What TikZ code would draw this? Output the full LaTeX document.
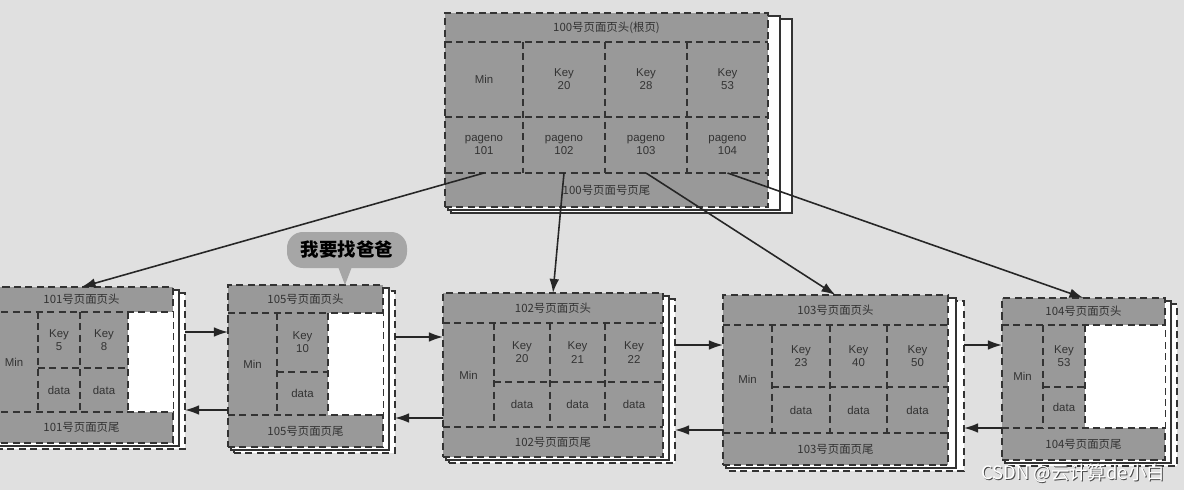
\documentclass[tikz,border=0pt]{standalone}
\usepackage{fontspec}
\setsansfont{Liberation Sans}
\newfontfamily\cjk{Noto Sans CJK SC}
\usetikzlibrary{fit,arrows.meta}
\NewDocumentCommand{\DrawPageStack}{O{6} O{sheet} m m m m m}{%
    \def\PageName{#3}
    \def\PageXMin{#4}
    \def\PageYMin{#5}
    \def\PageXMax{#6}
    \def\PageYMax{#7}
    %
    \node [#2, fit={(\PageXMin+6,\PageYMin+6) (\PageXMax+2*#1,\PageYMax+6)}] (\PageName b2) {};
    \node [sheet, fit={(\PageXMin+3,\PageYMin+3) (\PageXMax+#1,\PageYMax+3)}] (\PageName b1) {};
    \node [page, fit={(\PageXMin,\PageYMin) (\PageXMax,\PageYMax)}] (\PageName) {};
}

\begin{document}
\begin{tikzpicture}[
    x=0.02cm, y=-0.02cm,% one unit = one pixel of the scan
    dashln/.style={dash pattern=on 4pt off 2.5pt, line width=1.1pt},
    page/.style={draw=black!80, fill=black!40, dashln, inner sep=0pt, outer sep=0pt},
    sheet/.style={draw=black!80, fill=white, line width=0.6pt, inner sep=0pt, outer sep=0pt},
    backsheet/.style={sheet, dashln},
    cellline/.style={draw=black!80, dashln},
    cell/.style={inner sep=0pt, outer sep=0pt},
    celltext/.style={inner sep=0pt, align=center, text=black!80, font=\sffamily\fontsize{6.5}{7.5}\selectfont},
    bandtext/.style={celltext, font=\cjk\fontsize{6.5}{7.5}\selectfont},
    blank/.style={fill=white, inner sep=0pt, outer sep=0pt},
    link/.style={-{Latex[length=8pt, width=5.5pt]}, line width=0.9pt, black!85},
    bubble/.style={fill=black!35, rounded corners=9pt, inner sep=0pt},
    wmark/.style={text=white, font=\cjk\fontsize{10.5}{12}\selectfont}
    ]

    \useasboundingbox (0,0) rectangle (1184,490);
    \fill[black!12] (0,0) rectangle (1184,490);

    % root page 100
    \DrawPageStack[12]{p100}{445}{13}{768}{207}
    \node[cell, fit={(445,13) (768,42)}, label={[bandtext]center:100号页面页头(根页)}] (p100hd) {};
    \node[cell, fit={(445,42) (523,117)}, label={[celltext]center:Min}] (p100k0) {};
    \node[cell, fit={(523,42) (605,117)}, label={[celltext]center:{Key\\20}}] (p100k1) {};
    \node[cell, fit={(605,42) (687,117)}, label={[celltext]center:{Key\\28}}] (p100k2) {};
    \node[cell, fit={(687,42) (768,117)}, label={[celltext]center:{Key\\53}}] (p100k3) {};
    \node[cell, fit={(445,117) (523,173)}, label={[celltext]center:{pageno\\101}}] (p100g1) {};
    \node[cell, fit={(523,117) (605,173)}, label={[celltext]center:{pageno\\102}}] (p100g2) {};
    \node[cell, fit={(605,117) (687,173)}, label={[celltext]center:{pageno\\103}}] (p100g3) {};
    \node[cell, fit={(687,117) (768,173)}, label={[celltext]center:{pageno\\104}}] (p100g4) {};
    \node[cell, fit={(445,173) (768,207)}, label={[bandtext]center:100号页面号页尾}] (p100ft) {};
    \draw[cellline] (p100hd.south west) -- (p100hd.south east)
        (p100k0.south west) -- (p100k3.south east)
        (p100ft.north west) -- (p100ft.north east)
        (p100k1.north west) -- (p100g2.south west)
        (p100k2.north west) -- (p100g3.south west)
        (p100k3.north west) -- (p100g4.south west);

    % leaf 101
    \DrawPageStack[6][backsheet]{p101}{-10}{287}{173}{443}
    \node[cell, fit={(-10,287) (173,312)}, label={[bandtext]center:101号页面页头}] (p101hd) {};
    \node[cell, fit={(-10,312) (38,412)}, label={[celltext]center:Min}] (p101min) {};
    \node[cell, fit={(38,312) (80,368)}, label={[celltext]center:{Key\\5}}] (p101k1) {};
    \node[cell, fit={(80,312) (128,368)}, label={[celltext]center:{Key\\8}}] (p101k2) {};
    \node[cell, fit={(38,368) (80,412)}, label={[celltext]center:data}] (p101d1) {};
    \node[cell, fit={(80,368) (128,412)}, label={[celltext]center:data}] (p101d2) {};
    \node[blank, fit={(128,312) (173,412)}] (p101e) {};
    \node[cell, fit={(-10,412) (173,443)}, label={[bandtext]center:101号页面页尾}] (p101ft) {};
    \draw[cellline] (p101hd.south west) -- (p101hd.south east)
        (p101ft.north west) -- (p101ft.north east)
        (p101k1.north west) -- (p101d1.south west)
        (p101k2.north west) -- (p101d2.south west)
        (p101k2.north east) -- (p101d2.south east)
        (p101k1.south west) -- (p101k2.south east);

    % leaf 105
    \DrawPageStack[6][backsheet]{p105}{228}{285}{383}{447}
    \node[cell, fit={(228,285) (383,313)}, label={[bandtext]center:105号页面页头}] (p105hd) {};
    \node[cell, fit={(228,313) (277,415)}, label={[celltext]center:Min}] (p105min) {};
    \node[cell, fit={(277,313) (328,372)}, label={[celltext]center:{Key\\10}}] (p105k1) {};
    \node[cell, fit={(277,372) (328,415)}, label={[celltext]center:data}] (p105d1) {};
    \node[blank, fit={(328,313) (383,415)}] (p105e) {};
    \node[cell, fit={(228,415) (383,447)}, label={[bandtext]center:105号页面页尾}] (p105ft) {};
    \draw[cellline] (p105hd.south west) -- (p105hd.south east)
        (p105ft.north west) -- (p105ft.north east)
        (p105k1.north west) -- (p105d1.south west)
        (p105k1.north east) -- (p105d1.south east)
        (p105k1.south west) -- (p105k1.south east);

    % leaf 102
    \DrawPageStack[6][backsheet]{p102}{443}{293}{663}{457}
    \node[cell, fit={(443,293) (663,323)}, label={[bandtext]center:102号页面页头}] (p102hd) {};
    \node[cell, fit={(443,323) (494,427)}, label={[celltext]center:Min}] (p102min) {};
    \node[cell, fit={(494,323) (550,382)}, label={[celltext]center:{Key\\20}}] (p102k1) {};
    \node[cell, fit={(550,323) (605,382)}, label={[celltext]center:{Key\\21}}] (p102k2) {};
    \node[cell, fit={(605,323) (663,382)}, label={[celltext]center:{Key\\22}}] (p102k3) {};
    \node[cell, fit={(494,382) (550,427)}, label={[celltext]center:data}] (p102d1) {};
    \node[cell, fit={(550,382) (605,427)}, label={[celltext]center:data}] (p102d2) {};
    \node[cell, fit={(605,382) (663,427)}, label={[celltext]center:data}] (p102d3) {};
    \node[cell, fit={(443,427) (663,457)}, label={[bandtext]center:102号页面页尾}] (p102ft) {};
    \draw[cellline] (p102hd.south west) -- (p102hd.south east)
        (p102ft.north west) -- (p102ft.north east)
        (p102k1.north west) -- (p102d1.south west)
        (p102k2.north west) -- (p102d2.south west)
        (p102k3.north west) -- (p102d3.south west)
        (p102k1.south west) -- (p102k3.south east);

    % leaf 103
    \DrawPageStack[8][backsheet]{p103}{723}{295}{948}{465}
    \node[cell, fit={(723,295) (948,325)}, label={[bandtext]center:103号页面页头}] (p103hd) {};
    \node[cell, fit={(723,325) (772,433)}, label={[celltext]center:Min}] (p103min) {};
    \node[cell, fit={(772,325) (830,387)}, label={[celltext]center:{Key\\23}}] (p103k1) {};
    \node[cell, fit={(830,325) (887,387)}, label={[celltext]center:{Key\\40}}] (p103k2) {};
    \node[cell, fit={(887,325) (948,387)}, label={[celltext]center:{Key\\50}}] (p103k3) {};
    \node[cell, fit={(772,387) (830,433)}, label={[celltext]center:data}] (p103d1) {};
    \node[cell, fit={(830,387) (887,433)}, label={[celltext]center:data}] (p103d2) {};
    \node[cell, fit={(887,387) (948,433)}, label={[celltext]center:data}] (p103d3) {};
    \node[cell, fit={(723,433) (948,465)}, label={[bandtext]center:103号页面页尾}] (p103ft) {};
    \draw[cellline] (p103hd.south west) -- (p103hd.south east)
        (p103ft.north west) -- (p103ft.north east)
        (p103k1.north west) -- (p103d1.south west)
        (p103k2.north west) -- (p103d2.south west)
        (p103k3.north west) -- (p103d3.south west)
        (p103k1.south west) -- (p103k3.south east);

    % leaf 104
    \DrawPageStack[6][backsheet]{p104}{1002}{298}{1165}{460}
    \node[cell, fit={(1002,298) (1165,325)}, label={[bandtext]center:104号页面页头}] (p104hd) {};
    \node[cell, fit={(1002,325) (1043,428)}, label={[celltext]center:Min}] (p104min) {};
    \node[cell, fit={(1043,325) (1085,387)}, label={[celltext]center:{Key\\53}}] (p104k1) {};
    \node[cell, fit={(1043,387) (1085,428)}, label={[celltext]center:data}] (p104d1) {};
    \node[blank, fit={(1085,325) (1165,428)}] (p104e) {};
    \node[cell, fit={(1002,428) (1165,460)}, label={[bandtext]center:104号页面页尾}] (p104ft) {};
    \draw[cellline] (p104hd.south west) -- (p104hd.south east)
        (p104ft.north west) -- (p104ft.north east)
        (p104k1.north west) -- (p104d1.south west)
        (p104k1.north east) -- (p104d1.south east)
        (p104k1.south west) -- (p104k1.south east);

    % root to leaves
    \draw[link] (p100g1.south) -- (p101hd.north);
    \draw[link] (p100g2.south) -- (p102hd.north);
    \draw[link] (p100g3.south) -- (p103hd.north);
    \draw[link] (p100g4.south) -- (p104hd.north);

    % sibling links
    \draw[link] (p101b2.east |- 0,332) -- (p105.west |- 0,332);
    \draw[link] (p105.west |- 0,410) -- (p101b2.east |- 0,410);
    \draw[link] (p105b2.east |- 0,337) -- (p102.west |- 0,337);
    \draw[link] (p102.west |- 0,418) -- (p105b2.east |- 0,418);
    \draw[link] (p102b2.east |- 0,345) -- (p103.west |- 0,345);
    \draw[link] (p103.west |- 0,430) -- (p102b2.east |- 0,430);
    \draw[link] (p103b2.east |- 0,345) -- (p104.west |- 0,345);
    \draw[link] (p104.west |- 0,428) -- (p103b2.east |- 0,428);

    % speech bubble
    \node[bubble, fit={(287,232) (407,268)}, label={[font=\cjk\bfseries\fontsize{10.5}{12}\selectfont, text=black]center:我要找爸爸}] (bubble) {};
    \fill[black!35] (337,264) -- (353,264) -- (345,285) -- cycle;

    \node[wmark, text=black!70] (csdnsh) at (1074,474) {CSDN @云计算de小白};
    \node[wmark] (csdn) at (1073,473) {CSDN @云计算de小白};

\end{tikzpicture}
\end{document}
